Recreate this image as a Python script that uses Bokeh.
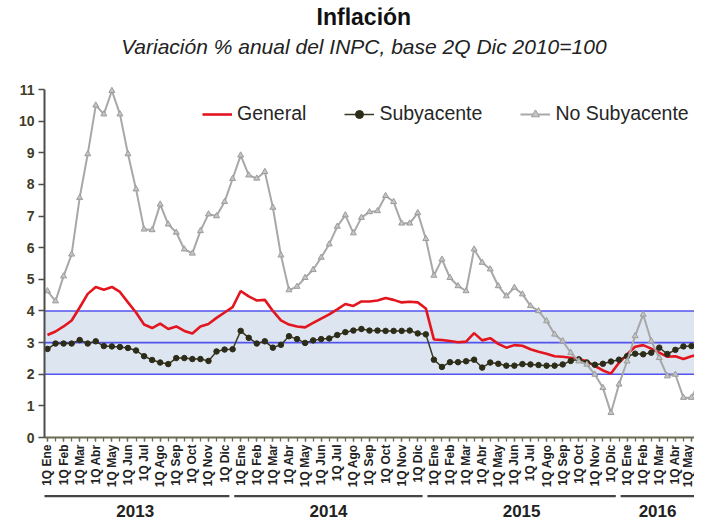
import math
from bokeh.plotting import figure
from bokeh.layouts import column
from bokeh.models import (Range1d, LinearAxis, FixedTicker, BoxAnnotation, Span, Label,
                          Legend, LegendItem, ColumnDataSource)
from bokeh.core.properties import value
from bokeh.embed import file_html
from bokeh.resources import INLINE

# ---------------- data ----------------
years = [2013, 2014, 2015, 2016]
months = ["Ene", "Feb", "Mar", "Abr", "May", "Jun", "Jul", "Ago", "Sep", "Oct", "Nov", "Dic"]
quincenas = ["1Q", "2Q"]

general = [3.24, 3.35, 3.51, 3.70, 4.11, 4.54, 4.76, 4.67, 4.76, 4.60, 4.27, 3.95,
           3.57, 3.46, 3.60, 3.43, 3.51, 3.37, 3.29, 3.51, 3.59, 3.78, 3.95, 4.12,
           4.63, 4.46, 4.33, 4.35, 4.00, 3.70, 3.57, 3.51, 3.48, 3.62, 3.76, 3.89,
           4.05, 4.22, 4.16, 4.30, 4.30, 4.33, 4.41, 4.35, 4.27, 4.29, 4.27, 4.08,
           3.10, 3.08, 3.05, 3.01, 3.03, 3.30, 3.07, 3.14, 2.96, 2.84, 2.92, 2.90,
           2.79, 2.71, 2.65, 2.57, 2.55, 2.52, 2.48, 2.41, 2.26, 2.12, 2.02, 2.36,
           2.63, 2.87, 2.92, 2.81, 2.68, 2.55, 2.57, 2.48, 2.57, 2.62, 2.60]

subyacente = [2.80, 2.97, 2.97, 2.97, 3.08, 2.97, 3.04, 2.89, 2.88, 2.86, 2.83, 2.75,
              2.57, 2.45, 2.37, 2.32, 2.51, 2.51, 2.48, 2.48, 2.42, 2.72, 2.78, 2.79,
              3.37, 3.15, 2.97, 3.04, 2.84, 2.93, 3.20, 3.11, 2.99, 3.07, 3.11, 3.13,
              3.24, 3.33, 3.38, 3.43, 3.38, 3.38, 3.37, 3.37, 3.37, 3.38, 3.29, 3.26,
              2.46, 2.23, 2.38, 2.38, 2.41, 2.46, 2.21, 2.37, 2.33, 2.27, 2.27, 2.32,
              2.31, 2.29, 2.27, 2.27, 2.31, 2.42, 2.47, 2.37, 2.30, 2.33, 2.40, 2.46,
              2.57, 2.65, 2.63, 2.68, 2.84, 2.64, 2.77, 2.88, 2.89, 2.92, 2.93]

no_subyacente = [4.63, 4.31, 5.10, 5.79, 7.58, 8.96, 10.50, 10.22, 10.96, 10.22, 8.96, 7.85,
                 6.58, 6.56, 7.37, 6.74, 6.48, 5.95, 5.82, 6.53, 7.06, 7.00, 7.45, 8.18,
                 8.92, 8.29, 8.19, 8.40, 7.27, 5.76, 4.66, 4.77, 5.05, 5.30, 5.69, 6.11,
                 6.67, 7.03, 6.46, 6.95, 7.13, 7.16, 7.64, 7.45, 6.77, 6.77, 7.10, 6.28,
                 5.12, 5.63, 5.05, 4.79, 4.63, 5.95, 5.53, 5.32, 4.79, 4.47, 4.74, 4.53,
                 4.16, 4.00, 3.68, 3.26, 3.05, 2.68, 2.41, 2.31, 1.99, 1.57, 0.78, 1.68,
                 2.41, 3.21, 3.89, 3.05, 2.52, 1.94, 1.99, 1.26, 1.26, 1.78, 1.20]

y_ticks = list(range(0, 12))
band_low, band_mid, band_high = 2, 3, 4

# ---------------- derived ----------------
N = len(general)
periods = [(y, m, q) for y in years for m in months for q in quincenas][:N]
xs = list(range(N))

FONT = "Liberation Sans"
PX_PER_Q = 8.05
FIG_W = 694
LEFT = 44
TOP = 7
x_start = -0.37
x_end = x_start + (FIG_W - LEFT) / PX_PER_Q
FRAME_H = 430
Y_TOP = FRAME_H / (348.0 / 11.0)

src = ColumnDataSource(dict(x=xs, general=general, sub=subyacente, nosub=no_subyacente))

p = figure(width=FIG_W, height=TOP + FRAME_H + 54, output_backend="svg", toolbar_location=None,
           x_range=Range1d(x_start, x_end), y_range=Range1d(0, Y_TOP),
           x_axis_type=None, y_axis_type=None,
           min_border_left=LEFT, min_border_right=0, min_border_top=TOP, min_border_bottom=54)
p.outline_line_color = None
p.background_fill_color = "white"

# target band
p.add_layout(BoxAnnotation(bottom=band_low, top=band_high, fill_color="#dce5f0",
                           fill_alpha=1.0, line_color=None, level="underlay"))
for lv in (band_low, band_mid, band_high):
    p.add_layout(Span(location=lv, dimension="width", line_color="#5353ee",
                      line_width=1.6, level="underlay"))

# series
r_gen = p.line("x", "general", source=src, line_color="#e3151e", line_width=2.6)
r_sub_l = p.line("x", "sub", source=src, line_color="#3a3a24", line_width=1.5)
r_sub_m = p.scatter("x", "sub", source=src, marker="circle", size=5.5,
                    fill_color="#2c2c18", line_color="#2c2c18")
r_nos_l = p.line("x", "nosub", source=src, line_color="#a8a8a8", line_width=2)
r_nos_m = p.scatter("x", "nosub", source=src, marker="triangle", size=6,
                    fill_color="#c4c4c4", line_color="#9c9c9c", line_width=1)

# axes
yaxis = LinearAxis(ticker=FixedTicker(ticks=y_ticks), bounds=(0, 11))
yaxis.axis_line_color = "#4d4d4d"
yaxis.axis_line_width = 2
yaxis.major_tick_out = 6
yaxis.major_tick_in = 0
yaxis.major_tick_line_color = "#4d4d4d"
yaxis.major_tick_line_width = 1.5
yaxis.minor_tick_line_color = None
yaxis.major_label_text_font = FONT
yaxis.major_label_text_font_style = "bold"
yaxis.major_label_text_font_size = "14px"
yaxis.major_label_text_color = "#403c28"
yaxis.major_label_standoff = 4
p.add_layout(yaxis, "left")

first_q = [i for i, (yy, m, q) in enumerate(periods) if q == quincenas[0]]
xaxis = LinearAxis(ticker=FixedTicker(ticks=first_q, minor_ticks=xs))
xaxis.major_label_overrides = {i: f"{periods[i][2]} {periods[i][1]}" for i in first_q}
xaxis.major_label_orientation = math.pi / 2
xaxis.major_label_text_font = FONT
xaxis.major_label_text_font_style = "bold"
xaxis.major_label_text_font_size = "12px"
xaxis.major_label_text_color = "#222222"
xaxis.major_label_standoff = 3
xaxis.axis_line_color = "#6b6b55"
xaxis.axis_line_width = 2
xaxis.major_tick_out = 4
xaxis.major_tick_in = 0
xaxis.minor_tick_out = 4
xaxis.minor_tick_in = 0
xaxis.major_tick_line_color = "#6b6b55"
xaxis.minor_tick_line_color = "#6b6b55"
xaxis.major_tick_line_width = 1.3
xaxis.minor_tick_line_width = 1.3
p.add_layout(xaxis, "below")

# titles
p.add_layout(Label(x=39.3, y=13.28, text="Inflación", text_align="center",
                   text_baseline="middle", text_font=FONT, text_font_style="bold",
                   text_font_size="23px", text_color="#111111"))
p.add_layout(Label(x=39.3, y=12.36, text="Variación % anual del INPC, base 2Q Dic 2010=100",
                   text_align="center", text_baseline="middle", text_font=FONT,
                   text_font_style="italic", text_font_size="21px", text_color="#222222"))

# legend
legend = Legend(items=[LegendItem(label="General", renderers=[r_gen]),
                       LegendItem(label="Subyacente", renderers=[r_sub_l, r_sub_m]),
                       LegendItem(label="No Subyacente", renderers=[r_nos_l, r_nos_m])],
                orientation="horizontal", location=(158, 312))
legend.background_fill_alpha = 0
legend.border_line_color = None
legend.padding = 0
legend.margin = 0
legend.spacing = 38
legend.glyph_width = 30
legend.label_standoff = 5
legend.label_text_font = FONT
legend.label_text_font_size = "19.5px"
legend.label_text_color = "#262626"
p.add_layout(legend)

# year band below the axis
year_start = [i for i, (yy, m, q) in enumerate(periods) if m == months[0] and q == quincenas[0]]
seg_x0 = [s - 0.8 for s in year_start]
seg_x1 = [s + 22.6 for s in year_start]
seg_c = [(a + min(b, x_end)) / 2 for a, b in zip(seg_x0, seg_x1)]
ysrc = ColumnDataSource(dict(x0=seg_x0, x1=seg_x1, xc=seg_c,
                             label=[str(periods[s][0]) for s in year_start]))

P2_H = 29
p2 = figure(width=FIG_W, height=P2_H, output_backend="svg", toolbar_location=None,
            x_range=p.x_range, y_range=Range1d(0, 1), x_axis_type=None, y_axis_type=None,
            min_border_left=LEFT, min_border_right=0, min_border_top=0, min_border_bottom=0)
p2.outline_line_color = None
p2.segment(x0="x0", x1="x1", y0=0.84, y1=0.84, source=ysrc, line_color="#444444", line_width=2.2)
p2.text(x="xc", y=0.32, text="label", source=ysrc, text_align="center", text_baseline="middle",
        text_font=value(FONT), text_font_style="bold", text_font_size="17px", text_color="#222222")

layout = column(p, p2, spacing=0)
open("out.html", "w").write(file_html(layout, INLINE))
